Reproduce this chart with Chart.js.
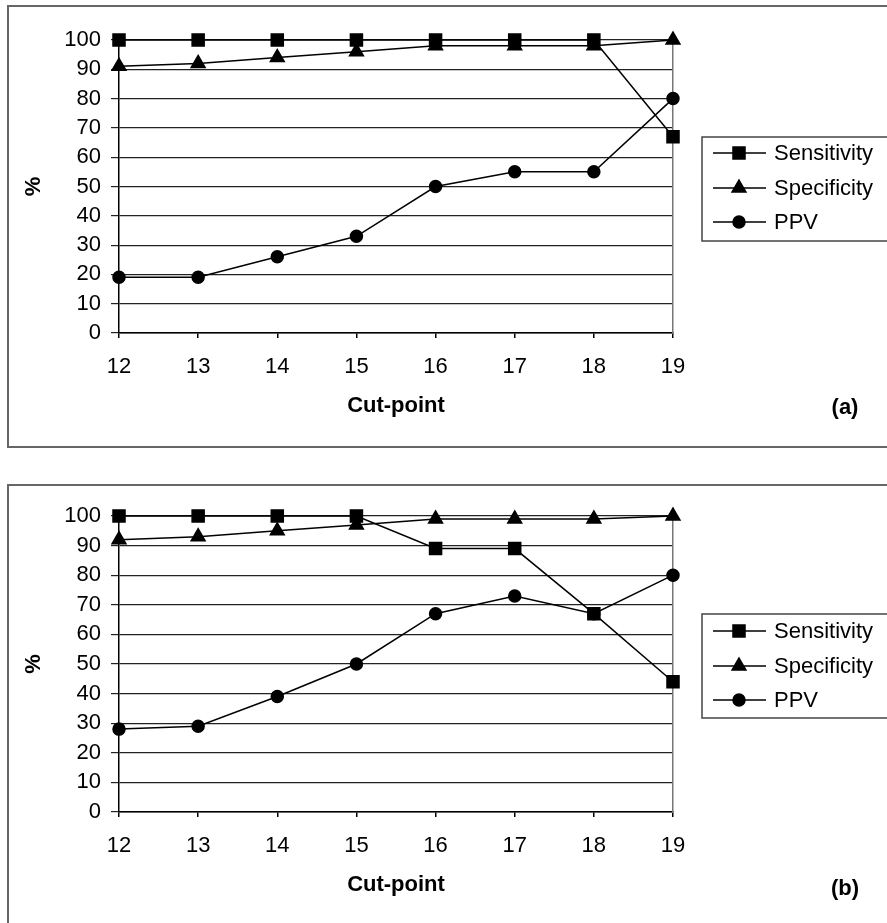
<!DOCTYPE html>
<html>
<head>
<meta charset="utf-8">
<script src="https://cdn.jsdelivr.net/npm/chart.js@4.4.1/dist/chart.umd.min.js"></script>
<style>
  html, body { margin: 0; padding: 0; background: #fff; overflow: hidden; }
  body { width: 887px; height: 923px; position: relative; font-family: "Liberation Sans", Arial, sans-serif; }
  .frame { position: absolute; border: 2px solid #666; box-sizing: border-box; }
  .tag { position: absolute; font-weight: bold; font-size: 22px; transform: translate(-50%, -50%); }
  canvas { position: absolute; left: 0; }
</style>
</head>
<body>
<div class="frame" style="left:7px; top:5px; width:900px; height:443px;"></div>
<div class="frame" style="left:7px; top:484px; width:900px; height:460px;"></div>
<canvas id="chart-a" style="top:0px;"></canvas>
<canvas id="chart-b" style="top:460px;"></canvas>
<div class="tag" style="left:845px; top:407px;">(a)</div>
<div class="tag" style="left:845px; top:888px;">(b)</div>
<script>
const cutPoints = ['12', '13', '14', '15', '16', '17', '18', '19'];
const yTicks = [0, 10, 20, 30, 40, 50, 60, 70, 80, 90, 100];

// panel (a)
const sensitivityA = [100, 100, 100, 100, 100, 100, 100, 67];
const specificityA = [91, 92, 94, 96, 98, 98, 98, 100];
const ppvA = [19, 19, 26, 33, 50, 55, 55, 80];

// panel (b)
const sensitivityB = [100, 100, 100, 100, 89, 89, 67, 44];
const specificityB = [92, 93, 95, 97, 99, 99, 99, 100];
const ppvB = [28, 29, 39, 50, 67, 73, 67, 80];

const FONT = '"Liberation Sans", Arial, sans-serif';
const FS = 22;

const sideLegend = {
  id: 'sideLegend',
  afterDraw(chart, args, opts) {
    const ctx = chart.ctx;
    ctx.save();
    ctx.strokeStyle = '#444';
    ctx.lineWidth = 1.5;
    ctx.strokeRect(opts.left, opts.top, 300, opts.bottom - opts.top);
    ctx.font = FS + 'px ' + FONT;
    ctx.textBaseline = 'middle';
    ctx.textAlign = 'left';
    chart.data.datasets.forEach((ds, i) => {
      const y = opts.rows[i];
      ctx.strokeStyle = '#000';
      ctx.lineWidth = 1.5;
      ctx.beginPath();
      ctx.moveTo(713, y);
      ctx.lineTo(766, y);
      ctx.stroke();
      ctx.fillStyle = '#000';
      Chart.helpers.drawPoint(ctx, { pointStyle: ds.pointStyle, radius: ds.pointRadius, rotation: 0, borderWidth: 1 }, 739, y);
      ctx.fillStyle = '#000';
      ctx.fillText(ds.label, 774, y + 1);
    });
    ctx.restore();
  }
};

function renderPanel(canvasId, height, plotTop, plotBottom, sens, spec, ppv, legendBox) {
  const canvas = document.getElementById(canvasId);
  canvas.width = 887;
  canvas.height = height;
  canvas.style.width = '887px';
  canvas.style.height = height + 'px';
  const lh = FS * 0.6;
  const titleCenter = plotBottom + 73;
  const line = (label, data, style, r) => ({
    label, data,
    borderColor: '#000', backgroundColor: '#000', borderWidth: 1.5,
    pointStyle: style, pointRadius: r, pointHoverRadius: r,
    pointBorderColor: '#000', pointBackgroundColor: '#000',
    tension: 0, clip: false
  });
  return new Chart(canvas.getContext('2d'), {
    type: 'line',
    data: {
      labels: cutPoints,
      datasets: [
        line('Sensitivity', sens, 'rect', 8.5),
        line('Specificity', spec, 'triangle', 8),
        line('PPV', ppv, 'circle', 6)
      ]
    },
    options: {
      responsive: false,
      animation: false,
      events: [],
      layout: { padding: { left: 0, right: 214, top: plotTop, bottom: height - (titleCenter + lh) } },
      plugins: {
        legend: { display: false },
        tooltip: { enabled: false },
        sideLegend: legendBox
      },
      scales: {
        x: {
          type: 'category',
          offset: false,
          afterFit: s => { s.height = titleCenter + lh - plotBottom; },
          grid: { drawOnChartArea: false, drawTicks: true, tickLength: 5, color: '#000', lineWidth: 1.5 },
          border: { color: '#000', width: 1.5 },
          ticks: { color: '#000', font: { family: FONT, size: FS }, padding: 16, maxRotation: 0, autoSkip: false },
          title: { display: true, text: 'Cut-point', color: '#000', font: { family: FONT, size: FS, weight: 'bold' }, padding: 0 }
        },
        y: {
          min: 0, max: 100,
          afterBuildTicks: s => { s.ticks = yTicks.map(v => ({ value: v })); },
          afterFit: s => { s.width = 119; },
          grid: { color: '#222', lineWidth: 1.2, tickLength: 8, drawTicks: true },
          border: { color: '#000', width: 1.5 },
          ticks: { color: '#000', font: { family: FONT, size: FS }, padding: 10, autoSkip: false },
          title: { display: true, text: '%', color: '#000', font: { family: FONT, size: FS, weight: 'bold' }, padding: { top: 21, bottom: 0 } }
        },
        y2: {
          position: 'right',
          min: 0, max: 100,
          afterFit: s => { s.width = 0; },
          grid: { drawOnChartArea: false, drawTicks: false },
          border: { color: '#777', width: 1.5 },
          ticks: { display: false }
        }
      }
    },
    plugins: [sideLegend]
  });
}

renderPanel('chart-a', 450, 40, 333, sensitivityA, specificityA, ppvA,
  { left: 702, top: 137, bottom: 241, rows: [153, 188, 222] });
renderPanel('chart-b', 463, 56, 352, sensitivityB, specificityB, ppvB,
  { left: 702, top: 154, bottom: 258, rows: [171, 206, 240] });
</script>
</body>
</html>
